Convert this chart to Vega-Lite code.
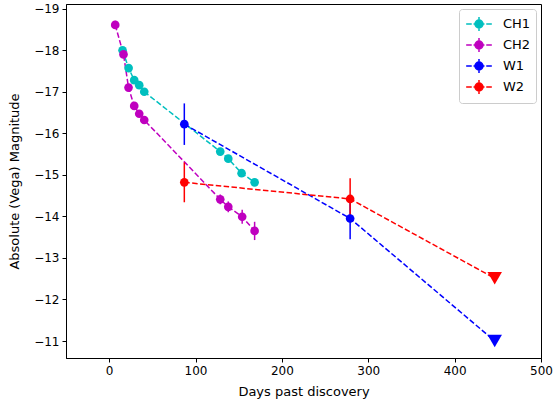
{
  "$schema": "https://vega.github.io/schema/vega-lite/v6.json",
  "width": 475,
  "height": 354,
  "autosize": {"type": "none"},
  "padding": {"left": 66, "top": 4, "right": 12, "bottom": 46},
  "config": {
    "font": "DejaVu Sans",
    "view": {"stroke": "black", "strokeWidth": 1},
    "axis": {
      "grid": false,
      "domainColor": "black",
      "tickColor": "black",
      "labelColor": "black",
      "titleColor": "black",
      "labelFontSize": 12,
      "titleFontSize": 13,
      "titleFontWeight": "normal",
      "tickSize": 4,
      "labelPadding": 3,
      "labelFlush": false,
      "domainWidth": 1
    }
  },
  "data": {
    "values": [
      {"band": "CH1", "day": 15.5, "mag": -18.0, "err": 0.06, "limit": false},
      {"band": "CH1", "day": 22.5, "mag": -17.57, "err": 0.06, "limit": false},
      {"band": "CH1", "day": 29, "mag": -17.28, "err": 0.06, "limit": false},
      {"band": "CH1", "day": 34.8, "mag": -17.16, "err": 0.06, "limit": false},
      {"band": "CH1", "day": 40.6, "mag": -17.0, "err": 0.06, "limit": false},
      {"band": "CH1", "day": 128.6, "mag": -15.56, "err": 0.06, "limit": false},
      {"band": "CH1", "day": 137.9, "mag": -15.39, "err": 0.06, "limit": false},
      {"band": "CH1", "day": 153.3, "mag": -15.04, "err": 0.07, "limit": false},
      {"band": "CH1", "day": 168.4, "mag": -14.82, "err": 0.08, "limit": false},
      {"band": "CH2", "day": 7, "mag": -18.61, "err": 0.1, "limit": false},
      {"band": "CH2", "day": 16.6, "mag": -17.9, "err": 0.08, "limit": false},
      {"band": "CH2", "day": 22.4, "mag": -17.1, "err": 0.08, "limit": false},
      {"band": "CH2", "day": 29, "mag": -16.66, "err": 0.08, "limit": false},
      {"band": "CH2", "day": 34.8, "mag": -16.47, "err": 0.08, "limit": false},
      {"band": "CH2", "day": 40.6, "mag": -16.32, "err": 0.08, "limit": false},
      {"band": "CH2", "day": 128.6, "mag": -14.41, "err": 0.12, "limit": false},
      {"band": "CH2", "day": 137.9, "mag": -14.23, "err": 0.13, "limit": false},
      {"band": "CH2", "day": 154, "mag": -13.99, "err": 0.17, "limit": false},
      {"band": "CH2", "day": 168.4, "mag": -13.65, "err": 0.22, "limit": false},
      {"band": "W1", "day": 87, "mag": -16.22, "err": 0.5, "limit": false},
      {"band": "W1", "day": 279, "mag": -13.95, "err": 0.5, "limit": false},
      {"band": "W1", "day": 446.4, "mag": -11.0, "err": 0, "limit": true},
      {"band": "W2", "day": 87, "mag": -14.82, "err": 0.48, "limit": false},
      {"band": "W2", "day": 279, "mag": -14.42, "err": 0.5, "limit": false},
      {"band": "W2", "day": 446.4, "mag": -12.51, "err": 0, "limit": true}
    ]
  },
  "encoding": {
    "x": {
      "field": "day",
      "type": "quantitative",
      "scale": {"domain": [-50, 500], "nice": false, "zero": false},
      "axis": {"values": [0, 100, 200, 300, 400, 500], "title": "Days past discovery", "titlePadding": 9}
    },
    "y": {
      "field": "mag",
      "type": "quantitative",
      "scale": {"domain": [-19.113, -10.591], "nice": false, "zero": false, "reverse": true},
      "axis": {"values": [-19, -18, -17, -16, -15, -14, -13, -12, -11], "title": "Absolute (Vega) Magnitude", "titlePadding": 12}
    },
    "color": {
      "field": "band",
      "type": "nominal",
      "scale": {"domain": ["CH1", "CH2", "W1", "W2"], "range": ["#00bfbf", "#bf00bf", "#0000ff", "#ff0000"]},
      "legend": null
    }
  },
  "layer": [
    {
      "mark": {"type": "line", "strokeDash": [5.5, 2.4], "strokeWidth": 1.5},
      "encoding": {
        "order": {"field": "day", "type": "quantitative"},
        "color": {
          "field": "band",
          "type": "nominal",
          "scale": {"domain": ["CH1", "CH2", "W1", "W2"], "range": ["#00bfbf", "#bf00bf", "#0000ff", "#ff0000"]},
          "legend": {
            "title": null,
            "orient": "top-right",
            "offset": 5,
            "padding": 5,
            "rowPadding": -4.6,
            "strokeColor": "#cccccc",
            "fillColor": "white",
            "cornerRadius": 3,
            "labelFontSize": 13,
            "labelColor": "black",
            "labelOffset": 14,
            "symbolSize": 313,
            "symbolOffset": 5,
            "symbolType": "M-1.45,0H-0.82M-0.62,0H0.62M0.82,0H1.45M0,-0.8V0.8M-0.45,0A0.45,0.45,0,1,0,0.45,0A0.45,0.45,0,1,0,-0.45,0Z",
            "symbolStrokeWidth": 1.5,
            "encode": {
              "symbols": {
                "update": {
                  "fill": {"scale": "color", "field": "value"},
                  "stroke": {"scale": "color", "field": "value"},
                  "strokeDash": {"value": []},
                  "strokeWidth": {"value": 1.5},
                  "opacity": {"value": 1}
                }
              }
            }
          }
        }
      }
    },
    {
      "transform": [{"filter": "!datum.limit"}],
      "mark": {"type": "errorbar", "thickness": 1.5},
      "encoding": {
        "yError": {"field": "err"}
      }
    },
    {
      "transform": [{"filter": "!datum.limit"}],
      "mark": {"type": "point", "shape": "circle", "filled": true, "opacity": 1, "size": 75}
    },
    {
      "transform": [{"filter": "datum.limit"}],
      "mark": {"type": "point", "shape": "triangle-down", "filled": true, "opacity": 1, "size": 210}
    }
  ]
}
